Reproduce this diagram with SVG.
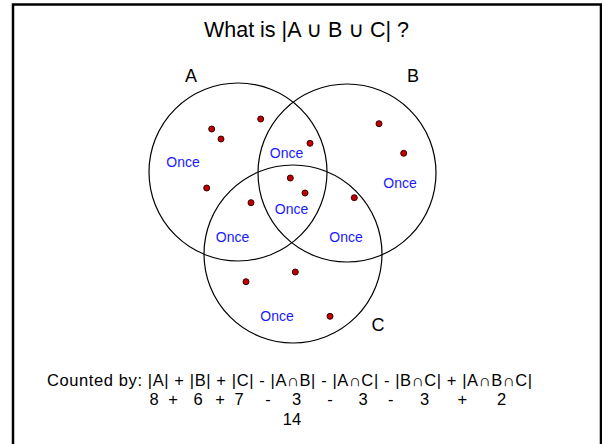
<svg xmlns="http://www.w3.org/2000/svg" width="602" height="444" viewBox="0 0 602 444">
<style>
text { font-family: "Comic Sans MS", "Liberation Sans", "DejaVu Sans", sans-serif; fill: #000; }
.title { font-size: 21.5px; }
.lbl { font-size: 18px; }
.once { font-size: 14px; fill: #1a1aff; text-anchor: middle; }
.eq { font-size: 16.5px; }
.num { font-size: 16.5px; text-anchor: middle; }
.set { fill: none; stroke: #000; stroke-width: 1.2; }
.dot { fill: #c00000; stroke: #3a0000; stroke-width: 1; }
</style>
<rect x="0" y="0" width="602" height="444" fill="#fff"/>
<rect x="13" y="4.5" width="588" height="470" fill="none" stroke="#000" stroke-width="2.5"/>
<text class="title" x="306.5" y="37" text-anchor="middle">What is |A ∪ B ∪ C| ?</text>
<g id="connectors"></g>
<g id="setA">
<circle class="set" cx="238" cy="172" r="89"/>
<text class="lbl" x="191" y="82" text-anchor="middle">A</text>
</g>
<g id="setB">
<circle class="set" cx="347" cy="173" r="89"/>
<text class="lbl" x="413" y="82" text-anchor="middle">B</text>
</g>
<g id="setC">
<circle class="set" cx="293" cy="254" r="89"/>
<text class="lbl" x="378" y="331" text-anchor="middle">C</text>
</g>
<g id="regions">
<text class="once" x="183" y="167">Once</text>
<text class="once" x="286.5" y="158">Once</text>
<text class="once" x="400" y="188">Once</text>
<text class="once" x="291.5" y="213.5">Once</text>
<text class="once" x="232.5" y="242">Once</text>
<text class="once" x="346" y="242">Once</text>
<text class="once" x="277" y="321">Once</text>
</g>
<g id="elements">
<circle class="dot" cx="260.7" cy="119" r="3"/>
<circle class="dot" cx="211.7" cy="129" r="3"/>
<circle class="dot" cx="221" cy="139" r="3"/>
<circle class="dot" cx="206.7" cy="188" r="3"/>
<circle class="dot" cx="310" cy="143.3" r="3"/>
<circle class="dot" cx="379" cy="123.7" r="3"/>
<circle class="dot" cx="403.7" cy="153.3" r="3"/>
<circle class="dot" cx="290.3" cy="178" r="3"/>
<circle class="dot" cx="305" cy="193" r="3"/>
<circle class="dot" cx="251" cy="202.7" r="3"/>
<circle class="dot" cx="354.3" cy="197.7" r="3"/>
<circle class="dot" cx="295.3" cy="272" r="3"/>
<circle class="dot" cx="246" cy="281.7" r="3"/>
<circle class="dot" cx="330" cy="316.3" r="3"/>
</g>
<g id="formula">
<text class="eq" x="47" y="386" textLength="485">Counted by: |A| + |B| + |C| - |A∩B| - |A∩C| - |B∩C| + |A∩B∩C|</text>
<text class="num" y="405"><tspan x="154">8</tspan><tspan x="173">+</tspan><tspan x="198">6</tspan><tspan x="220">+</tspan><tspan x="239">7</tspan><tspan x="268">-</tspan><tspan x="296.7">3</tspan><tspan x="330">-</tspan><tspan x="363">3</tspan><tspan x="390.7">-</tspan><tspan x="424.7">3</tspan><tspan x="462.3">+</tspan><tspan x="501.7">2</tspan></text>
<text class="num" x="292" y="425">14</text>
</g>
</svg>
